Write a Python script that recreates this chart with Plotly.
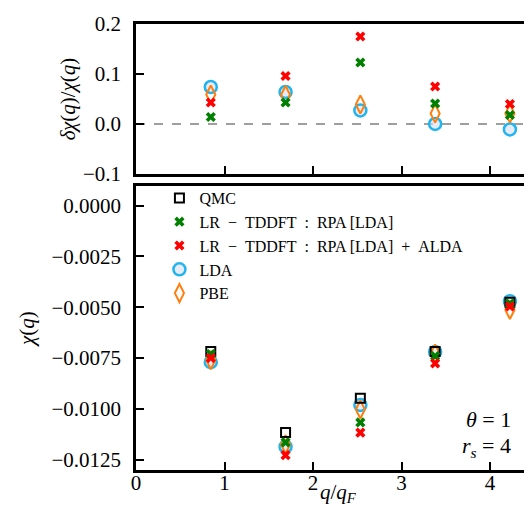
import plotly.graph_objects as go
from plotly.subplots import make_subplots

# q / q_F
q = [0.845, 1.69, 2.535, 3.38, 4.225]

# relative error dchi/chi (top panel)
rel_rpa = [0.014, 0.043, 0.123, 0.041, 0.018]
rel_alda = [0.043, 0.096, 0.175, 0.075, 0.040]
rel_lda = [0.074, 0.064, 0.027, 0.000, -0.011]
rel_pbe = [0.059, 0.058, 0.039, 0.021, 0.021]

# chi(q) (bottom panel)
chi_qmc = [-0.00718, -0.01116, -0.00948, -0.00718, -0.00475]
chi_rpa = [-0.00730, -0.01165, -0.01067, -0.00740, -0.00482]
chi_alda = [-0.00750, -0.01228, -0.01117, -0.00776, -0.00496]
chi_lda = [-0.00770, -0.01186, -0.00981, -0.00720, -0.00470]
chi_pbe = [-0.00760, -0.01175, -0.01003, -0.00728, -0.00513]

xticks = [0, 1, 2, 3, 4]
top_ticks = [-0.1, 0.0, 0.1, 0.2]
top_labels = ['\u22120.1', '0.0', '0.1', '0.2']
bot_ticks = [0.0, -0.0025, -0.005, -0.0075, -0.01, -0.0125]
bot_labels = ['0.0000', '\u22120.0025', '\u22120.0050', '\u22120.0075', '\u22120.0100', '\u22120.0125']

serif = 'Liberation Serif'
green = '#008000'
red = '#ff0000'
blue = '#22b4ee'
orange = '#ff7f0e'
sp = '\u2002'  # wider math-style spacing around operators

sq = dict(symbol='square-open', size=9, color='black', line=dict(width=2, color='black'))
xg = dict(symbol='x', size=9, color=green, line=dict(width=0))
xr = dict(symbol='x', size=9, color=red, line=dict(width=0))
circ = dict(symbol='circle', size=12, color='rgba(215,222,242,0.6)', line=dict(width=2.5, color=blue))
dia = dict(symbol='diamond-tall-open', size=13, color=orange, line=dict(width=2, color=orange))

fig = make_subplots(rows=2, cols=1)

# top panel
fig.add_trace(go.Scatter(x=q, y=rel_lda, mode='markers', marker=circ, showlegend=False), row=1, col=1)
fig.add_trace(go.Scatter(x=q, y=rel_pbe, mode='markers', marker=dia, showlegend=False), row=1, col=1)
fig.add_trace(go.Scatter(x=q, y=rel_rpa, mode='markers', marker=xg, showlegend=False), row=1, col=1)
fig.add_trace(go.Scatter(x=q, y=rel_alda, mode='markers', marker=xr, showlegend=False), row=1, col=1)

# bottom panel
fig.add_trace(go.Scatter(x=q, y=chi_lda, mode='markers', marker=circ, name='LDA', legendrank=4), row=2, col=1)
fig.add_trace(go.Scatter(x=q, y=chi_pbe, mode='markers', marker=dia, name='PBE', legendrank=5), row=2, col=1)
fig.add_trace(go.Scatter(x=q, y=chi_qmc, mode='markers', marker=sq, name='QMC', legendrank=1), row=2, col=1)
fig.add_trace(go.Scatter(x=q, y=chi_rpa, mode='markers', marker=xg,
                         name=f'LR{sp}\u2212{sp}TDDFT{sp}:{sp}RPA [LDA]', legendrank=2), row=2, col=1)
fig.add_trace(go.Scatter(x=q, y=chi_alda, mode='markers', marker=xr,
                         name=f'LR{sp}\u2212{sp}TDDFT{sp}:{sp}RPA [LDA]{sp}+{sp}ALDA', legendrank=3), row=2, col=1)

axis_style = dict(showline=True, linecolor='black', linewidth=2.5, ticks='inside',
                  tickwidth=2, ticklen=8, tickcolor='black', showgrid=False, zeroline=False,
                  automargin=False,
                  tickfont=dict(family=serif, size=21, color='black'))

fig.update_xaxes(axis_style)
fig.update_yaxes(axis_style)

fig.update_xaxes(range=[0, 4.565], tickvals=xticks, mirror=True)
fig.update_xaxes(showticklabels=False, domain=[0, 1], row=1, col=1)
fig.update_xaxes(domain=[0, 1], ticklabelstandoff=-8, row=2, col=1)

fig.update_yaxes(range=[-0.1, 0.2], tickvals=top_ticks, ticktext=top_labels,
                 domain=[0.6637, 1.0], ticklabelstandoff=8,
                 title=dict(text='<i>δχ</i>(<i>q</i>)/<i>χ</i>(<i>q</i>)',
                            font=dict(family=serif, size=21), standoff=2),
                 row=1, col=1)
fig.update_yaxes(range=[-0.01301, 0.00097], tickvals=bot_ticks, ticktext=bot_labels,
                 domain=[0, 0.6368], ticklabelstandoff=8,
                 title=dict(text='<i>χ</i>(<i>q</i>)', font=dict(family=serif, size=21), standoff=12),
                 row=2, col=1)

# zero reference line
fig.add_shape(type='line', xref='x domain', yref='y', x0=0, x1=1, y0=0, y1=0,
              line=dict(color='gray', width=1.5, dash='dash'), layer='below')

fig.add_annotation(text='<i>q</i>/<i>q</i><sub><i>F</i></sub>', xref='paper', yref='paper',
                   x=0.5, y=-0.052, xanchor='center', yanchor='middle', showarrow=False,
                   font=dict(family=serif, size=21, color='black'))
fig.add_annotation(text='<i>θ</i> = 1', xref='paper', yref='paper', x=0.933, y=0.113,
                   xanchor='right', yanchor='middle', showarrow=False,
                   font=dict(family=serif, size=22, color='black'))
fig.add_annotation(text='<i>r<sub>s</sub></i> = 4', xref='paper', yref='paper', x=0.933, y=0.052,
                   xanchor='right', yanchor='middle', showarrow=False,
                   font=dict(family=serif, size=22, color='black'))

fig.update_layout(
    width=532,
    height=506,
    margin=dict(l=128, r=0, t=16, b=44),
    plot_bgcolor='white',
    paper_bgcolor='white',
    font=dict(family=serif, color='black'),
    legend=dict(x=0.058, y=0.648, xanchor='left', yanchor='top',
                bgcolor='rgba(0,0,0,0)', borderwidth=0, itemwidth=30,
                font=dict(family=serif, size=16, color='black')),
)

fig.write_html('out.html')
